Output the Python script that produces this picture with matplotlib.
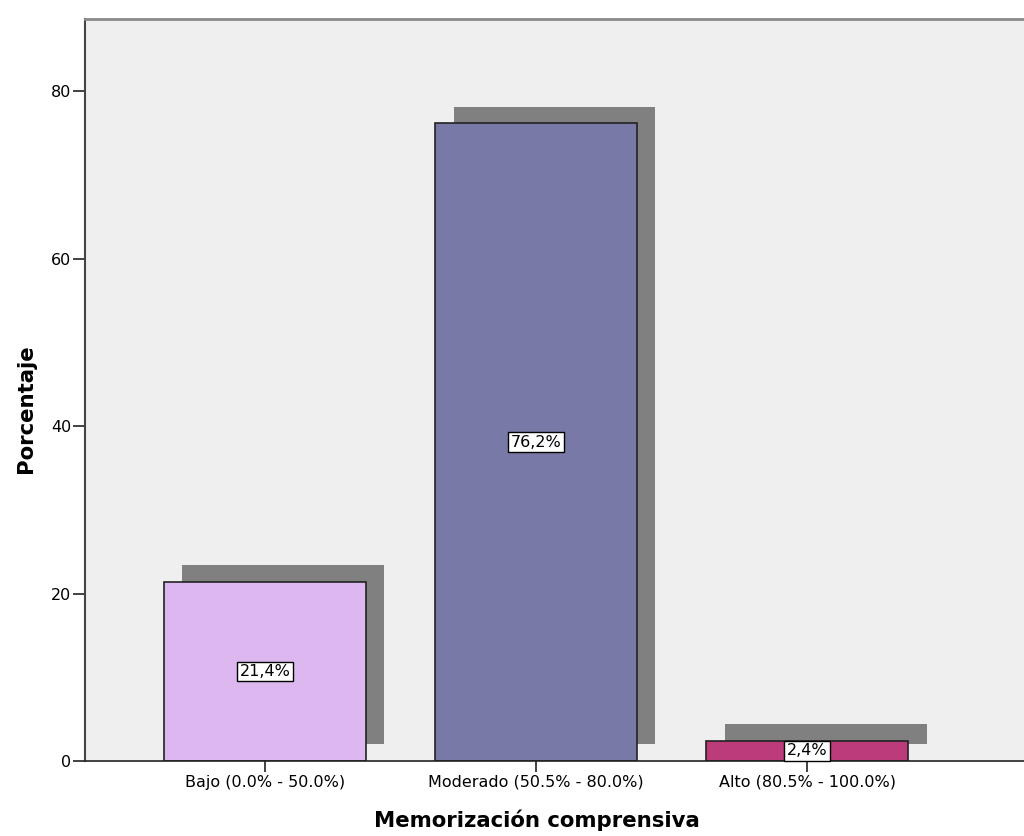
import matplotlib.pyplot as plt
import numpy as np

plt.rcParams['font.family'] = ['DejaVu Sans']

categorias = ['Bajo (0.0% - 50.0%)', 'Moderado (50.5% - 80.0%)', 'Alto (80.5% - 100.0%)']
porcentajes = [21.4, 76.2, 2.4]
etiquetas = ['21,4%', '76,2%', '2,4%']
colores = ['#DDB8F0', '#7879A7', '#BC3C7B']

fig = plt.figure(figsize=(10.24, 8.36), dpi=100)
ax = fig.add_axes([0.083, 0.0897, 0.917, 0.888])
ax.set_facecolor('#EFEFEF')

x = np.arange(len(categorias))
ancho = 0.745
dx, dy = 0.068, 2.0

# sombras
ax.bar(x + dx, porcentajes, width=ancho, bottom=dy, color='#808080', zorder=1)
ax.bar(x, porcentajes, width=ancho, color=colores, edgecolor='#222222', linewidth=1.2, zorder=2)

for xi, v, t in zip(x, porcentajes, etiquetas):
    ax.text(xi, v / 2, t, ha='center', va='center', fontsize=11.5, zorder=4,
            bbox=dict(boxstyle='square,pad=0.15', facecolor='white', edgecolor='black', linewidth=1))

ax.set_xlim(-0.664, 2.80)
ax.set_ylim(0, 88.7)
ax.set_xticks(x)
ax.set_xticklabels(categorias, fontsize=11.5)
ax.set_yticks([0, 20, 40, 60, 80])
ax.tick_params(axis='y', labelsize=11.5, length=9, width=1.2, color='#222222', pad=1)
ax.tick_params(axis='x', length=8, width=1.2, color='#222222', pad=2)

ax.spines['right'].set_visible(False)
ax.spines['top'].set_color('#8A8A8A')
ax.spines['top'].set_linewidth(2)
ax.spines['left'].set_color('#444444')
ax.spines['left'].set_linewidth(1.5)
ax.spines['bottom'].set_color('#222222')
ax.spines['bottom'].set_linewidth(1.2)

ax.set_xlabel('Memorización comprensiva', fontsize=15.3, fontweight='bold')
ax.set_ylabel('Porcentaje', fontsize=15.3, fontweight='bold')
ax.xaxis.set_label_coords(0.481, -0.065)
ax.yaxis.set_label_coords(-0.052, 0.475)

fig.savefig('out.png', dpi=100)
